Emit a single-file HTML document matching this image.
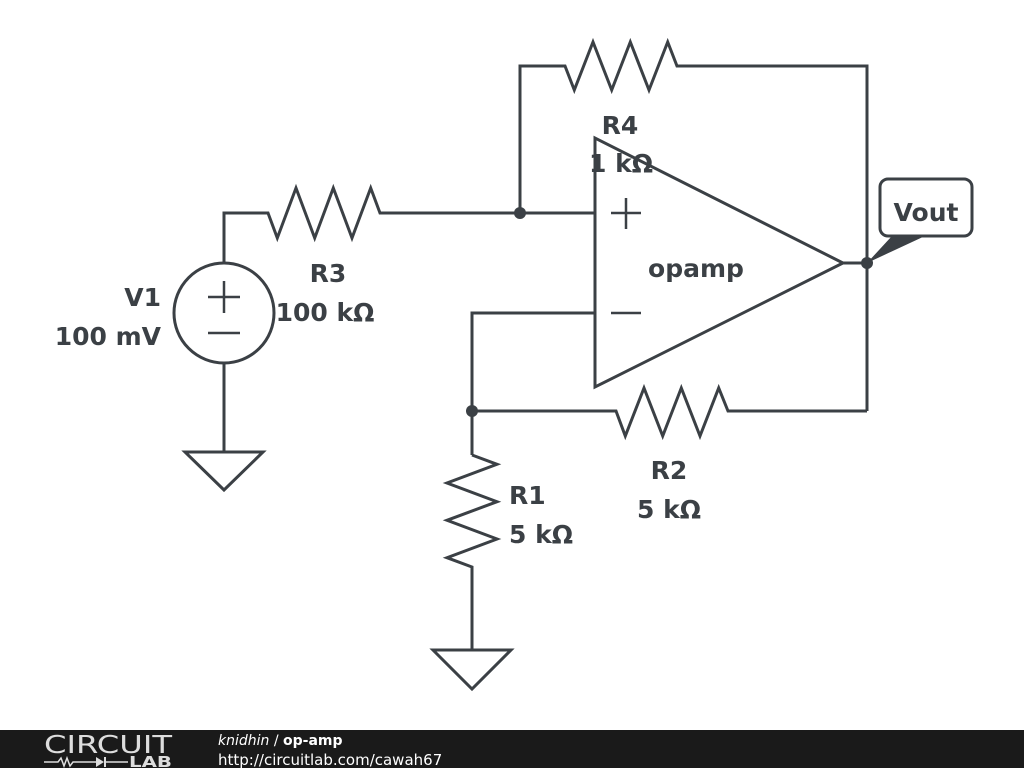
<!DOCTYPE html>
<html><head><meta charset="utf-8"><style>
body{margin:0;width:1024px;height:768px;background:#fff;overflow:hidden;position:relative;font-family:"DejaVu Sans",sans-serif}
svg{position:absolute;left:0;top:0}
</style></head><body>
<svg width="1024" height="768" viewBox="0 0 1024 768">
<g fill="none" stroke="#3b4045" stroke-width="3" stroke-linejoin="miter">
<polyline points="520,213 520,66 565,66 574.3,90 593,42 611.7,90 630.3,42 649,90 667.7,42 677,66 867,66 867,411"/>
<polyline points="224,263 224,213 268,213 277.3,238 296,188 314.7,238 333.3,188 352,238 370.7,188 380,213 595,213"/>
<circle cx="224" cy="313" r="50"/>
<line x1="224" y1="363" x2="224" y2="452"/>
<polygon points="185,452 263,452 224,490"/>
<polyline points="595,313 472,313 472,455"/>
<polyline points="472,411 616,411 625.3,436 644,388 662.7,436 681.3,388 700,436 718.7,388 728,411 867,411"/>
<polyline points="472,455 497,464.3 447,483 497,501.7 447,520.3 497,539 447,557.7 472,567 472,650"/>
<polygon points="433,650 511,650 472,689"/>
<line x1="843" y1="263" x2="867" y2="263"/>
</g>
<g stroke="#3b4045" stroke-width="2.5">
<line x1="208" y1="297" x2="240" y2="297"/><line x1="224" y1="281" x2="224" y2="313"/>
<line x1="208" y1="333" x2="240" y2="333"/>
</g>
<g font-family="DejaVu Sans, sans-serif" font-weight="bold" font-size="25" fill="#3b4045">
<text x="620" y="134" text-anchor="middle">R4</text>
<text x="621" y="172" text-anchor="middle">1 kΩ</text>
<text x="328" y="282" text-anchor="middle">R3</text>
<text x="325" y="321" text-anchor="middle">100 kΩ</text>
<text x="161" y="306" text-anchor="end">V1</text>
<text x="161" y="345" text-anchor="end">100 mV</text>
<text x="509" y="504">R1</text>
<text x="509" y="543">5 kΩ</text>
<text x="669" y="479" text-anchor="middle">R2</text>
<text x="669" y="518" text-anchor="middle">5 kΩ</text>
</g>
<polygon points="595,138 595,387 843,263" fill="none" stroke="#3b4045" stroke-width="3"/>
<g stroke="#3b4045" stroke-width="2.5">
<line x1="611" y1="213" x2="641" y2="213"/><line x1="626" y1="198" x2="626" y2="229"/>
<line x1="611" y1="313" x2="641" y2="313"/>
</g>
<text x="696" y="277" text-anchor="middle" font-weight="bold" font-size="25" fill="#3b4045">opamp</text>
<g fill="#3b4045">
<circle cx="520" cy="213" r="6"/>
<circle cx="472" cy="411" r="6"/>
<circle cx="867" cy="263" r="6"/>
<polygon points="867,263 892,236 925,236"/>
</g>
<rect x="880" y="179" width="92" height="57" rx="8" fill="#fff" stroke="#3b4045" stroke-width="3"/>
<text x="926" y="221" text-anchor="middle" font-weight="bold" font-size="25" fill="#3b4045">Vout</text>
<rect x="0" y="730" width="1024" height="38" fill="#1a1a1a"/>
<text x="44" y="753" font-size="25" fill="#ddd" font-family="DejaVu Sans, sans-serif" textLength="128" lengthAdjust="spacingAndGlyphs">CIRCUIT</text>
<polyline points="44,762 58,762 61,758 64,766 67,758 70,766 73,762 96,762" fill="none" stroke="#ddd" stroke-width="1.5"/>
<polygon points="96,757 96,767 104,762" fill="#ddd"/>
<line x1="105" y1="757" x2="105" y2="767" stroke="#ddd" stroke-width="2"/>
<line x1="105" y1="762" x2="128" y2="762" stroke="#ddd" stroke-width="1.5"/>
<text x="129" y="767" font-size="15" font-weight="bold" fill="#ddd" textLength="43" lengthAdjust="spacingAndGlyphs">LAB</text>
<text x="218" y="745" font-size="14" fill="#fff"><tspan font-style="italic">knidhin</tspan> / <tspan font-weight="bold">op-amp</tspan></text>
<text x="218" y="765" font-size="15" fill="#fff">http://circuitlab.com/cawah67</text>
</svg>
</body></html>
